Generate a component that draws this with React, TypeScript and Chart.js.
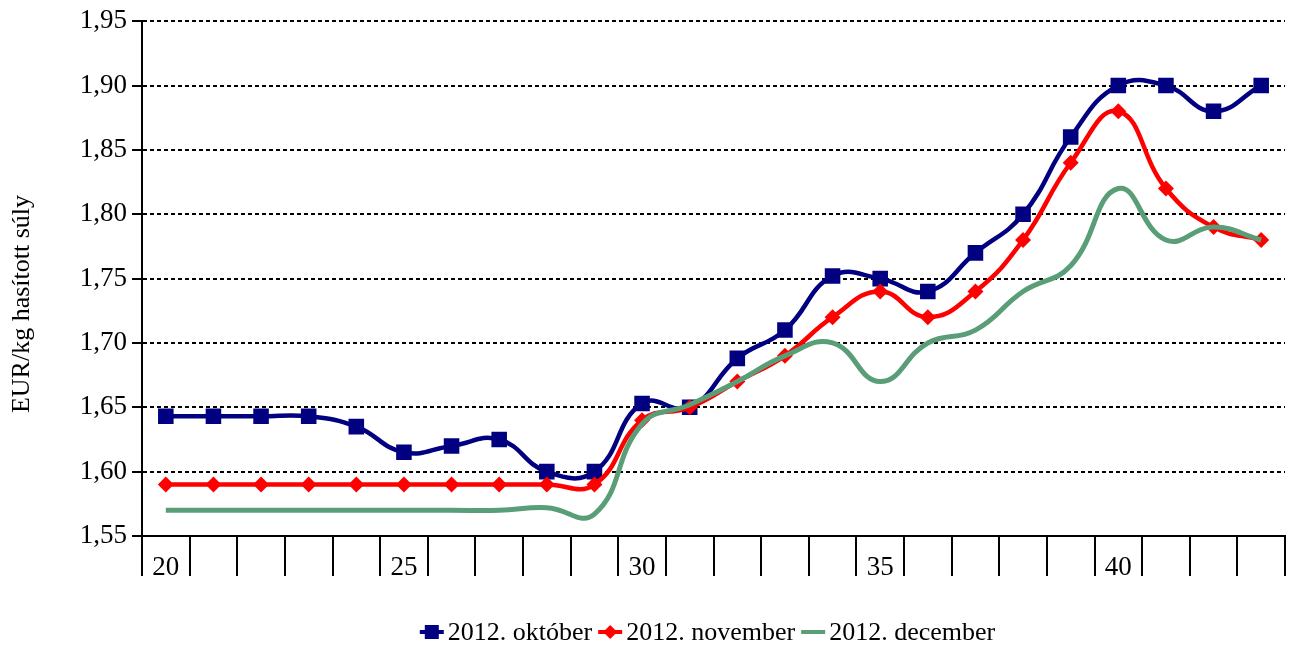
import React, { useEffect, useRef } from 'react';
import { Chart, registerables } from 'chart.js';

Chart.register(...registerables);

const weeks = ['20', '21', '22', '23', '24', '25', '26', '27', '28', '29', '30', '31', '32', '33', '34', '35', '36', '37', '38', '39', '40', '41', '42', '43'];
const oktober = [1.643, 1.643, 1.643, 1.643, 1.635, 1.615, 1.62, 1.625, 1.6, 1.6, 1.653, 1.65, 1.688, 1.71, 1.752, 1.75, 1.74, 1.77, 1.8, 1.86, 1.9, 1.9, 1.88, 1.9];
const november = [1.59, 1.59, 1.59, 1.59, 1.59, 1.59, 1.59, 1.59, 1.59, 1.59, 1.64, 1.65, 1.67, 1.69, 1.72, 1.74, 1.72, 1.74, 1.78, 1.84, 1.88, 1.82, 1.79, 1.78];
const december = [1.57, 1.57, 1.57, 1.57, 1.57, 1.57, 1.57, 1.57, 1.572, 1.567, 1.637, 1.652, 1.67, 1.69, 1.7, 1.67, 1.7, 1.71, 1.74, 1.76, 1.82, 1.78, 1.79, 1.78];
const seriesNames = ['2012. október', '2012. november', '2012. december'];
const yTitle = 'EUR/kg hasított súly';
const yMin = 1.55;
const yMax = 1.95;
const yStep = 0.05;

const FONT = "'Liberation Serif', 'Times New Roman', serif";

const legendPlugin = {
  id: 'excelLegend',
  afterDraw(chart: any) {
    const ctx = chart.ctx;
    const area = chart.chartArea;
    ctx.save();
    ctx.font = `26px ${FONT}`;
    ctx.textBaseline = 'middle';
    ctx.textAlign = 'left';
    const lineLen = 24;
    const gapText = 4;
    const gapItem = 6;
    const ds = chart.data.datasets;
    const widths = ds.map((d: any) => ctx.measureText(d.label).width);
    const total = widths.reduce((a: number, b: number) => a + b, 0) + ds.length * (lineLen + gapText) + (ds.length - 1) * gapItem;
    let x = (area.left + area.right) / 2 - total / 2 - 6;
    const y = 632;
    ds.forEach((d: any, i: number) => {
      ctx.strokeStyle = d.borderColor;
      ctx.lineWidth = 4;
      ctx.beginPath();
      ctx.moveTo(x, y);
      ctx.lineTo(x + lineLen, y);
      ctx.stroke();
      const cx = x + lineLen / 2;
      ctx.fillStyle = d.borderColor;
      if (d.pointStyle === 'rect') {
        ctx.fillRect(cx - 7, y - 7, 14, 14);
      } else if (d.pointStyle === 'rectRot') {
        ctx.beginPath();
        ctx.moveTo(cx - 7, y);
        ctx.lineTo(cx, y - 7);
        ctx.lineTo(cx + 7, y);
        ctx.lineTo(cx, y + 7);
        ctx.closePath();
        ctx.fill();
      }
      ctx.fillStyle = '#000';
      ctx.fillText(d.label, x + lineLen + gapText, y + 1);
      x += lineLen + gapText + widths[i] + gapItem;
    });
    // y axis title
    ctx.translate(22, 304);
    ctx.rotate(-Math.PI / 2);
    ctx.textAlign = 'center';
    ctx.font = `26px ${FONT}`;
    ctx.fillText(yTitle, 0, 0);
    ctx.restore();
  },
};

export default function App() {
  const ref = useRef<HTMLCanvasElement | null>(null);
  useEffect(() => {
    document.body.style.margin = '0';
    const canvas = ref.current;
    if (!canvas) return;
    const chart = new Chart(canvas, {
      type: 'line',
      data: {
        labels: weeks,
        datasets: [
          {
            label: seriesNames[0],
            data: oktober,
            borderColor: '#000080',
            backgroundColor: '#000080',
            borderWidth: 4.5,
            pointStyle: 'rect',
            pointRadius: 11,
            pointBorderWidth: 0,
            pointBackgroundColor: '#000080',
            tension: 0.45,
            order: 3,
          },
          {
            label: seriesNames[1],
            data: november,
            borderColor: '#FF0000',
            backgroundColor: '#FF0000',
            borderWidth: 4.5,
            pointStyle: 'rectRot',
            pointRadius: 8,
            pointBorderWidth: 0,
            pointBackgroundColor: '#FF0000',
            tension: 0.45,
            order: 2,
          },
          {
            label: seriesNames[2],
            data: december,
            borderColor: '#5A9E78',
            backgroundColor: '#5A9E78',
            borderWidth: 5,
            pointRadius: 0,
            pointHoverRadius: 0,
            tension: 0.45,
            order: 1,
          },
        ],
      },
      options: {
        animation: false,
        responsive: false,
        maintainAspectRatio: false,
        layout: { padding: { left: 0, right: 5, top: 19, bottom: 50 } },
        plugins: {
          legend: { display: false },
          tooltip: { enabled: false },
        },
        scales: {
          x: {
            type: 'category',
            offset: true,
            grid: {
              offset: true,
              drawOnChartArea: false,
              drawTicks: true,
              tickLength: 40,
              color: '#000',
              lineWidth: 2,
            },
            border: { display: true, color: '#000', width: 2 },
            ticks: {
              autoSkip: false,
              maxRotation: 0,
              padding: -24,
              color: '#000',
              font: { family: FONT, size: 27 },
              callback: (_v: any, i: number) => (i % 5 === 0 ? weeks[i] : ''),
            },
            afterFit: (s: any) => {
              s.height = 60;
            },
          },
          y: {
            min: yMin,
            max: yMax,
            ticks: {
              stepSize: yStep,
              padding: 5,
              color: '#000',
              font: { family: FONT, size: 27 },
              callback: (v: any) => Number(v).toFixed(2).replace('.', ','),
            },
            grid: {
              color: '#000',
              lineWidth: 2,
              tickLength: 10,
              tickBorderDash: [],
              tickColor: '#000',
            },
            border: { display: true, color: '#000', width: 2, dash: [4, 3] },
            afterFit: (s: any) => {
              s.width = 142;
            },
          },
        },
      },
      plugins: [legendPlugin],
    });
    return () => chart.destroy();
  }, []);
  return (
    <div style={{ width: 1296, height: 646 }}>
      <canvas ref={ref} width={1296} height={646} style={{ display: 'block' }} />
    </div>
  );
}
